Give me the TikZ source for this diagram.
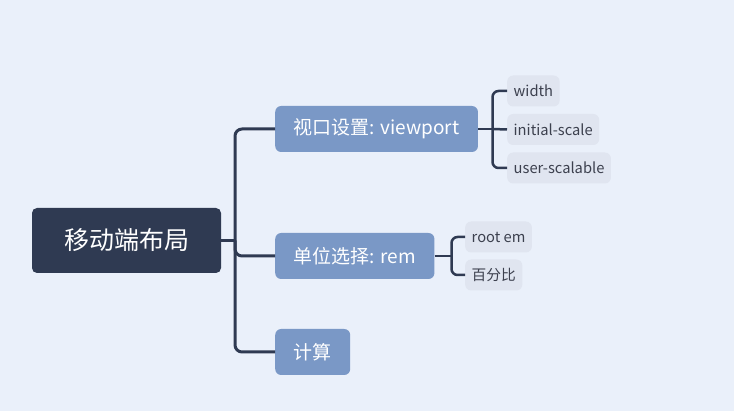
\documentclass[tikz,border=0pt]{standalone}
\usepackage{fontspec}
\newfontfamily\cjk{Noto Sans CJK SC}
\definecolor{canvas}{RGB}{234,240,250}
\definecolor{navy}{RGB}{47,58,82}
\definecolor{slate}{RGB}{122,152,198}
\definecolor{mist}{RGB}{224,229,240}
\definecolor{ink}{RGB}{60,64,78}

\begin{document}
\begin{tikzpicture}[x=1pt,y=-1pt,
  hubbox/.style={fill=navy,text=white,rounded corners=5pt,minimum width=189pt,minimum height=65pt,font=\cjk\fontsize{25}{30}\selectfont},
  topic/.style={fill=slate,text=white,rounded corners=6pt,anchor=west,inner xsep=18.5pt,minimum height=46pt,font=\cjk\fontsize{19}{23}\selectfont},
  leaf/.style={fill=mist,text=ink,rounded corners=6pt,anchor=west,inner xsep=6.5pt,minimum height=31pt,font=\cjk\fontsize{14.7}{18}\selectfont},
  link/.style={draw=navy,line width=3pt,rounded corners=7pt},
  twig/.style={draw=navy,line width=2.5pt,rounded corners=6pt}]
\fill[canvas] (0,0) rectangle (734,411);
\node[hubbox] (hub) at (126.5,240.5) {移动端布局};
\node[topic] (vp) at (275,129) {视口设置: viewport};
\node[topic] (rem) at (275,256) {单位选择: rem};
\node[topic] (calc) at (275,352) {计算};
\node[leaf] (wd) at (507,91) {width};
\node[leaf] (is) at (507,129.5) {initial-scale};
\node[leaf] (us) at (507,168) {user-scalable};
\node[leaf] (re) at (465,237) {root em};
\node[leaf] (pct) at (465,275) {百分比};
% main branches
\coordinate (j0) at (235,240.5);
\draw[link] (hub.east) -- (j0);
\draw[link] (vp.west) -| (j0) |- (calc.west);
\draw[link] (j0) |- (rem.west);
% viewport options
\coordinate (j1) at (492.5,129);
\draw[twig] (vp.east) -- (j1);
\draw[twig] (wd.west) -| (j1) |- (us.west);
\draw[twig] (j1) -- (is.west);
% rem options
\coordinate (j2) at (451.5,256);
\draw[twig] (rem.east) -- (j2);
\draw[twig] (re.west) -| (j2) |- (pct.west);
\end{tikzpicture}
\end{document}
